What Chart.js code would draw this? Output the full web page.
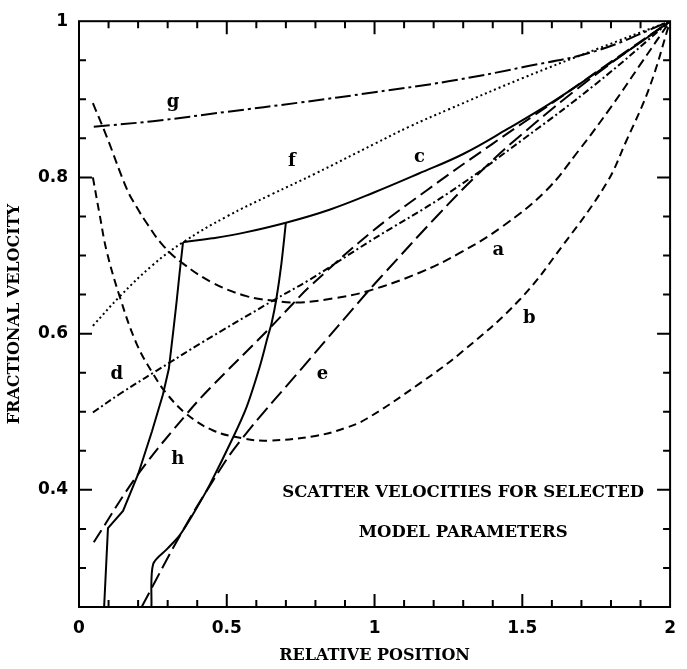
<!DOCTYPE html>
<html>
<head>
<meta charset="utf-8">
<script src="https://cdn.jsdelivr.net/npm/chart.js@4.4.0/dist/chart.umd.min.js"></script>
<style>
  html, body { margin: 0; padding: 0; background: #fff; }
  #chart { display: block; }
</style>
</head>
<body>
<canvas id="chart" width="687" height="669"></canvas>
<script>
// curves: [relative position, fractional velocity]
const curveA = [[0.047,0.895],[0.094,0.852],[0.162,0.785],[0.195,0.762],[0.23,0.741],[0.284,0.713],[0.351,0.69],[0.453,0.665],[0.567,0.648],[0.66,0.642],[0.75,0.64],[0.858,0.645],[0.973,0.654],[1.152,0.678],[1.287,0.703],[1.432,0.737],[1.58,0.783],[1.69,0.834],[1.8,0.89],[1.9,0.945],[2,1]];
const curveB = [[0.047,0.80],[0.07,0.752],[0.094,0.705],[0.139,0.646],[0.195,0.587],[0.25,0.549],[0.297,0.523],[0.364,0.497],[0.454,0.476],[0.554,0.466],[0.64,0.463],[0.8,0.469],[0.9,0.479],[0.973,0.491],[1.152,0.536],[1.297,0.577],[1.49,0.643],[1.635,0.712],[1.784,0.792],[1.851,0.846],[1.93,0.915],[2,1]];
const curveC = [[0.352,0.717],[0.45,0.722],[0.555,0.729],[0.70,0.742],[0.85,0.759],[1.0,0.781],[1.15,0.805],[1.3,0.83],[1.45,0.862],[1.6,0.896],[1.75,0.934],[1.9,0.973],[2,1]];
const curveCLeft = [[0.085,0.25],[0.098,0.351],[0.149,0.373],[0.2,0.42],[0.247,0.475],[0.284,0.522],[0.304,0.555],[0.318,0.60],[0.33,0.64],[0.341,0.68],[0.352,0.717]];
const curveCRight = [[0.245,0.25],[0.251,0.305],[0.30,0.325],[0.341,0.342],[0.40,0.378],[0.443,0.407],[0.52,0.466],[0.567,0.506],[0.611,0.557],[0.638,0.595],[0.652,0.614],[0.668,0.645],[0.685,0.69],[0.70,0.742]];
const curveD = [[0.047,0.499],[0.139,0.523],[0.307,0.563],[0.409,0.587],[0.655,0.642],[0.78,0.669],[0.983,0.718],[1.25,0.78],[1.5,0.848],[1.75,0.92],[2,1]];
const curveE = [[0.212,0.25],[0.341,0.341],[0.454,0.412],[0.544,0.462],[0.78,0.567],[0.973,0.652],[1.03,0.676],[1.21,0.75],[1.355,0.806],[1.51,0.859],[1.75,0.932],[2,1]];
const curveF = [[0.047,0.61],[0.139,0.648],[0.25,0.688],[0.352,0.717],[0.5,0.75],[0.65,0.778],[0.8,0.805],[1.0,0.843],[1.118,0.865],[1.25,0.887],[1.5,0.927],[1.75,0.964],[2,1]];
const curveG = [[0.05,0.865],[0.25,0.872],[0.5,0.884],[0.75,0.896],[1.0,0.909],[1.25,0.923],[1.5,0.941],[1.75,0.962],[2,1]];
const curveH = [[0.05,0.333],[0.2,0.42],[0.364,0.497],[0.443,0.53],[0.635,0.603],[0.723,0.638],[0.78,0.66],[0.983,0.728],[1.175,0.783],[1.399,0.843],[1.6,0.895],[1.8,0.948],[2,1]];

const curveLetters = ['a', 'b', 'c', 'd', 'e', 'f', 'g', 'h'];
const letterX = [1.419, 1.524, 1.152, 0.128, 0.824, 0.72, 0.318, 0.334];
const letterY = [0.707, 0.619, 0.826, 0.548, 0.548, 0.82, 0.896, 0.439];

const noteLines = ['SCATTER VELOCITIES FOR SELECTED', 'MODEL PARAMETERS'];
const noteX = 1.30;
const noteY = [0.396, 0.345];

const xTickValues = [0, 0.5, 1, 1.5, 2];
const xTickLabels = ['0', '0.5', '1', '1.5', '2'];
const yTickValues = [0.4, 0.6, 0.8, 1];
const yTickLabels = ['0.4', '0.6', '0.8', '1'];

const SERIF = '"DejaVu Serif", "Liberation Serif", serif';
const SANS = '"DejaVu Sans", "Liberation Sans", sans-serif';

function curve(label, data, dash, tension) {
    return {
        label: label,
        data: data,
        borderColor: '#000',
        borderWidth: 2,
        borderDash: dash,
        pointRadius: 0,
        fill: false,
        tension: tension
    };
}

// frame, inward ticks on all four sides, curve letters and the note
const frameAndNotes = {
    id: 'frameAndNotes',
    afterDatasetsDraw(chart) {
        const { ctx, chartArea: ca, scales: { x, y } } = chart;
        ctx.save();
        ctx.strokeStyle = '#000';
        ctx.lineWidth = 2;
        ctx.strokeRect(ca.left, ca.top, ca.right - ca.left, ca.bottom - ca.top);

        ctx.beginPath();
        for (let i = 1; i < 20; i++) {
            const px = x.getPixelForValue(i / 10);
            const len = i % 5 === 0 ? 13 : 7;
            ctx.moveTo(px, ca.bottom); ctx.lineTo(px, ca.bottom - len);
            ctx.moveTo(px, ca.top); ctx.lineTo(px, ca.top + len);
        }
        for (let j = 6; j < 20; j++) {
            const py = y.getPixelForValue(j / 20);
            const len = j % 4 === 0 ? 13 : 7;
            ctx.moveTo(ca.left, py); ctx.lineTo(ca.left + len, py);
            ctx.moveTo(ca.right, py); ctx.lineTo(ca.right - len, py);
        }
        ctx.stroke();

        ctx.fillStyle = '#000';
        ctx.textAlign = 'center';
        ctx.textBaseline = 'middle';
        ctx.font = 'bold 18px ' + SERIF;
        curveLetters.forEach((t, i) => {
            ctx.fillText(t, x.getPixelForValue(letterX[i]), y.getPixelForValue(letterY[i]));
        });

        ctx.font = 'bold 16.5px ' + SERIF;
        noteLines.forEach((t, i) => {
            ctx.fillText(t, x.getPixelForValue(noteX), y.getPixelForValue(noteY[i]));
        });
        ctx.restore();
    }
};

new Chart(document.getElementById('chart'), {
    type: 'line',
    data: {
        datasets: [
            curve('a', curveA, [9, 5], 0.4),
            curve('b', curveB, [8, 5], 0.4),
            curve('c', curveC, [], 0.4),
            curve('c left', curveCLeft, [], 0),
            curve('c right', curveCRight, [], 0.3),
            curve('d', curveD, [7, 3, 2, 3], 0.4),
            curve('e', curveE, [16, 6], 0.4),
            curve('f', curveF, [2, 3], 0.4),
            curve('g', curveG, [16, 4, 3, 4], 0.4),
            curve('h', curveH, [14, 6], 0.4)
        ]
    },
    options: {
        responsive: false,
        animation: false,
        devicePixelRatio: 1,
        layout: { padding: { left: 0, right: 16, top: 16, bottom: 0 } },
        plugins: {
            legend: { display: false },
            tooltip: { enabled: false }
        },
        scales: {
            x: {
                type: 'linear',
                min: 0,
                max: 2,
                grid: { display: false, drawTicks: false },
                border: { display: false },
                afterBuildTicks: s => { s.ticks = xTickValues.map(v => ({ value: v })); },
                afterFit: s => { s.height = 62; },
                ticks: {
                    padding: 11,
                    maxRotation: 0,
                    autoSkip: false,
                    color: '#000',
                    font: { family: SANS, size: 17, weight: 'bold' },
                    callback: v => xTickLabels[xTickValues.indexOf(v)]
                },
                title: {
                    display: true,
                    text: 'RELATIVE POSITION',
                    color: '#000',
                    font: { family: SERIF, size: 16, weight: 'bold' },
                    padding: { top: 0, bottom: 4 }
                }
            },
            y: {
                type: 'linear',
                min: 0.25,
                max: 1,
                grid: { display: false, drawTicks: false },
                border: { display: false },
                afterBuildTicks: s => { s.ticks = yTickValues.map(v => ({ value: v })); },
                afterFit: s => { s.width = 79; },
                ticks: {
                    padding: 11,
                    autoSkip: false,
                    color: '#000',
                    font: { family: SANS, size: 17, weight: 'bold' },
                    callback: v => yTickLabels[yTickValues.indexOf(v)]
                },
                title: {
                    display: true,
                    text: 'FRACTIONAL VELOCITY',
                    color: '#000',
                    font: { family: SERIF, size: 16, weight: 'bold' },
                    padding: { top: 5, bottom: 0 }
                }
            }
        }
    },
    plugins: [frameAndNotes]
});
</script>
</body>
</html>
